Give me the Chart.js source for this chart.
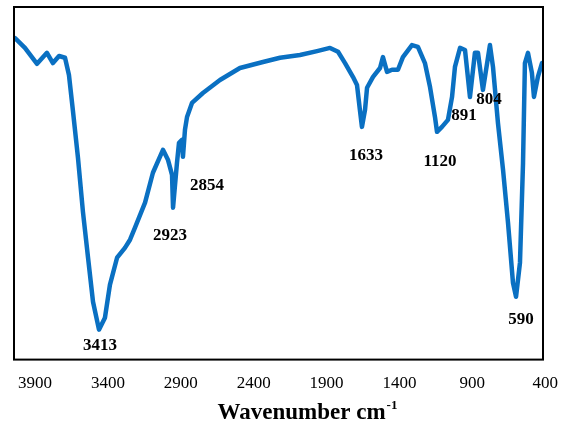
<!DOCTYPE html>
<html>
<head>
<meta charset="utf-8">
<script src="https://cdn.jsdelivr.net/npm/chart.js@4.4.1/dist/chart.umd.min.js"></script>
<style>
  html, body { margin: 0; padding: 0; background: #fff; }
  #wrap { width: 565px; height: 432px; }
</style>
</head>
<body>
<div id="wrap"><canvas id="myChart"></canvas></div>
<script>
// spectrum (wavenumber cm-1 / transmittance in arbitrary units)
const wavenumber = [4037, 3969, 3886, 3818, 3777, 3735, 3694, 3667, 3639, 3605,
    3571, 3536, 3502, 3461, 3420, 3386, 3337, 3283, 3248, 3214,
    3145, 3091, 3022, 2988, 2960, 2953, 2926, 2912, 2892, 2885,
    2871, 2857, 2823, 2748, 2631, 2494, 2336, 2219, 2082, 1965,
    1876, 1821, 1773, 1719, 1691, 1671, 1657, 1636, 1622, 1581,
    1533, 1513, 1485, 1451, 1410, 1376, 1314, 1273, 1225, 1190,
    1156, 1142, 1108, 1067, 1039, 1019, 984, 950, 916, 882,
    861, 827, 779, 758, 724, 689, 655, 621, 600, 573,
    552, 539, 518, 491, 477, 450, 422];
const transmittance = [91.2, 88.4, 83.9, 87.0, 84.1, 86.1, 85.6, 80.7, 70.3, 57.2,
    41.9, 28.9, 16.4, 8.5, 11.9, 21.2, 28.9, 31.7, 34.0, 37.4,
    44.5, 53.0, 59.5, 56.7, 52.4, 43.1, 55.8, 61.5, 62.3, 57.5,
    65.2, 68.8, 72.8, 75.6, 79.3, 82.7, 84.4, 85.6, 86.4, 87.5,
    88.4, 87.3, 84.1, 80.2, 77.9, 70.8, 66.0, 70.8, 77.1, 80.2,
    82.7, 85.8, 81.6, 82.2, 82.2, 85.8, 89.2, 88.7, 84.1, 77.3,
    68.8, 64.6, 66.0, 68.0, 74.5, 83.0, 88.4, 87.8, 74.5, 87.0,
    87.0, 76.5, 89.2, 83.0, 67.1, 53.8, 38.8, 21.8, 17.8, 27.5,
    55.8, 84.1, 87.0, 81.3, 74.5, 80.2, 84.1];

// x tick labels
const tickValues = [3900, 3400, 2900, 2400, 1900, 1400, 900, 400];

// peak labels and where they sit (in data units)
const peakText = ['3413', '2923', '2854', '1633', '1120', '891', '804', '590'];
const peakX = [3454, 2974, 2720, 1629, 1122, 957, 786, 566];
const peakY = [4.0, 35.1, 49.3, 57.8, 56.1, 69.1, 73.7, 11.3];

const serif = '"Liberation Serif", "Times New Roman", serif';

// frame round the plot, peak labels and axis title
const extrasPlugin = {
    id: 'extras',
    afterDraw(c) {
        const ctx = c.ctx;
        const a = c.chartArea;
        const xs = c.scales.x, ys = c.scales.y;
        ctx.save();
        ctx.strokeStyle = '#000';
        ctx.lineWidth = 2;
        ctx.strokeRect(a.left, a.top, a.right - a.left, a.bottom - a.top);

        ctx.fillStyle = '#000';
        ctx.font = 'bold 17px ' + serif;
        ctx.textAlign = 'center';
        ctx.textBaseline = 'middle';
        peakText.forEach((t, i) => {
            ctx.fillText(t, xs.getPixelForValue(peakX[i]), ys.getPixelForValue(peakY[i]));
        });

        // title with superscript
        const main = 'Wavenumber cm';
        const sup = '-1';
        ctx.font = 'bold 23px ' + serif;
        const w1 = ctx.measureText(main).width;
        ctx.font = 'bold 13px ' + serif;
        const w2 = ctx.measureText(sup).width;
        const cx = 307;
        const x0 = cx - (w1 + w2) / 2;
        const ty = 413;
        ctx.textAlign = 'left';
        ctx.font = 'bold 23px ' + serif;
        ctx.fillText(main, x0, ty);
        ctx.font = 'bold 13px ' + serif;
        ctx.fillText(sup, x0 + w1 + 1, ty - 7);
        ctx.restore();
    }
};

const ctx = document.getElementById('myChart').getContext('2d');
const chart = new Chart(ctx, {
    type: 'line',
    data: {
        datasets: [{
            data: wavenumber.map((w, i) => ({ x: w, y: transmittance[i] })),
            borderColor: '#0A70C2',
            borderWidth: 4.5,
            pointRadius: 0,
            tension: 0,
            borderJoinStyle: 'round',
            borderCapStyle: 'round',
            fill: false
        }]
    },
    options: {
        responsive: true,
        maintainAspectRatio: false,
        animation: false,
        layout: { padding: { left: 14, right: 22, top: 7, bottom: 24 } },
        plugins: { legend: { display: false }, tooltip: { enabled: false } },
        scales: {
            x: {
                type: 'linear',
                reverse: true,
                min: 415,
                max: 4044,
                afterBuildTicks: axis => {
                    axis.ticks = tickValues.map(v => ({ value: v }));
                },
                afterFit: axis => {
                    // labels may run past the frame, as in the original
                    axis.paddingLeft = 0;
                    axis.paddingRight = 0;
                },
                grid: { display: false, drawTicks: false },
                border: { display: false },
                ticks: {
                    color: '#000',
                    padding: 14,
                    autoSkip: false,
                    maxRotation: 0,
                    font: { family: serif, size: 17 },
                    callback: v => String(v)
                }
            },
            y: {
                display: false,
                min: 0,
                max: 100
            }
        }
    },
    plugins: [extrasPlugin]
});
</script>
</body>
</html>
